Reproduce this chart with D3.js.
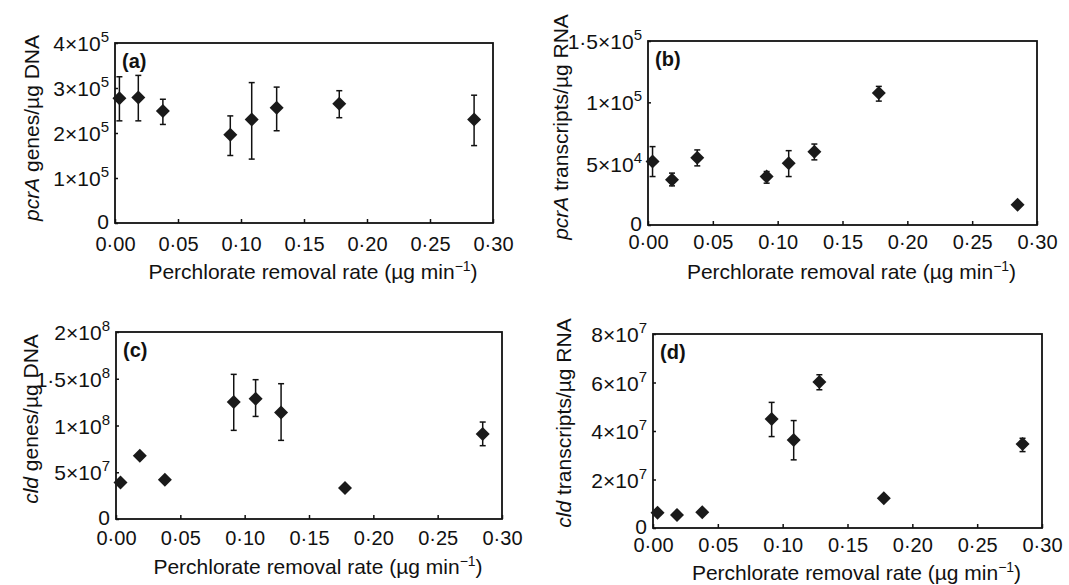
<!DOCTYPE html>
<html>
<head>
<meta charset="utf-8">
<script src="https://cdn.jsdelivr.net/npm/d3@7"></script>
<style>
  body { margin: 0; background: #fff; }
  svg, svg text { font-family: "Liberation Sans", Arial, Helvetica, sans-serif; }
</style>
</head>
<body>
<svg width="1069" height="585"></svg>
<script>
// removal rate (ug/min), same for every panel
var rate = [0.0035, 0.0185, 0.038, 0.0915, 0.1085, 0.1283, 0.178, 0.285];

// (a) pcrA genes / ug DNA
var pcrDNA    = [2.77e5, 2.79e5, 2.49e5, 1.96e5, 2.30e5, 2.56e5, 2.65e5, 2.30e5];
var pcrDNAHi  = [3.25e5, 3.28e5, 2.75e5, 2.38e5, 3.12e5, 3.02e5, 2.94e5, 2.84e5];
var pcrDNALo  = [2.27e5, 2.27e5, 2.19e5, 1.50e5, 1.42e5, 2.05e5, 2.34e5, 1.72e5];

// (b) pcrA transcripts / ug RNA
var pcrRNA    = [5.17e4, 3.68e4, 5.49e4, 3.95e4, 5.04e4, 5.98e4, 1.077e5, 1.65e4];
var pcrRNAHi  = [6.39e4, 4.23e4, 6.12e4, 4.36e4, 6.06e4, 6.60e4, 1.13e5, 1.75e4];
var pcrRNALo  = [3.95e4, 3.19e4, 4.82e4, 3.41e4, 3.95e4, 5.31e4, 1.01e5, 1.55e4];

// (c) cld genes / ug DNA
var cldDNA    = [3.91e7, 6.77e7, 4.20e7, 1.251e8, 1.287e8, 1.14e8, 3.32e7, 9.09e7];
var cldDNAHi  = [4.1e7, 6.9e7, 4.3e7, 1.547e8, 1.49e8, 1.447e8, 3.4e7, 1.037e8];
var cldDNALo  = [3.7e7, 6.6e7, 4.1e7, 9.48e7, 1.097e8, 8.41e7, 3.2e7, 7.84e7];

// (d) cld transcripts / ug RNA
var cldRNA    = [6.3e6, 5.4e6, 6.5e6, 4.49e7, 3.63e7, 6.02e7, 1.23e7, 3.46e7];
var cldRNAHi  = [6.8e6, 5.8e6, 7.0e6, 5.18e7, 4.43e7, 6.32e7, 1.28e7, 3.70e7];
var cldRNALo  = [5.8e6, 5.0e6, 6.0e6, 3.77e7, 2.81e7, 5.70e7, 1.18e7, 3.15e7];

var xTicks = [0, 0.05, 0.10, 0.15, 0.20, 0.25, 0.30];

// y ticks: value, mantissa text, exponent
var yTicksA = [[0,"0",""],[1e5,"1×10","5"],[2e5,"2×10","5"],[3e5,"3×10","5"],[4e5,"4×10","5"]];
var yTicksB = [[0,"0",""],[5e4,"5×10","4"],[1e5,"1×10","5"],[1.5e5,"1·5×10","5"]];
var yTicksC = [[0,"0",""],[5e7,"5×10","7"],[1e8,"1×10","8"],[1.5e8,"1·5×10","8"],[2e8,"2×10","8"]];
var yTicksD = [[0,"0",""],[2e7,"2×10","7"],[4e7,"4×10","7"],[6e7,"6×10","7"],[8e7,"8×10","7"]];

var panels = [
  {tag:"(a)", gene:"pcrA", unit:" genes/µg DNA", y:pcrDNA, hi:pcrDNAHi, lo:pcrDNALo, ticks:yTicksA, ymax:4e5,
   box:[115, 43, 493, 223], titleX:39, titleY:128, xLabY:251, xTitleY:279},
  {tag:"(b)", gene:"pcrA", unit:" transcripts/µg RNA", y:pcrRNA, hi:pcrRNAHi, lo:pcrRNALo, ticks:yTicksB, ymax:1.5e5,
   box:[648, 41, 1037, 225], titleX:568, titleY:127, xLabY:249, xTitleY:279},
  {tag:"(c)", gene:"cld", unit:" genes/µg DNA", y:cldDNA, hi:cldDNAHi, lo:cldDNALo, ticks:yTicksC, ymax:2e8,
   box:[116, 332, 502, 519], titleX:38, titleY:419, xLabY:545, xTitleY:574},
  {tag:"(d)", gene:"cld", unit:" transcripts/µg RNA", y:cldRNA, hi:cldRNAHi, lo:cldRNALo, ticks:yTicksD, ymax:8e7,
   box:[653, 334, 1042, 528], titleX:571, titleY:423, xLabY:552, xTitleY:580}
];

var svg = d3.select("svg");
var diamond = d3.symbol().type(d3.symbolDiamond2).size(125);
var ink = "#111";

panels.forEach(function(p){
  var x0 = p.box[0], y0 = p.box[1], x1 = p.box[2], y1 = p.box[3];
  var x = d3.scaleLinear().domain([0, 0.30]).range([x0, x1]);
  var y = d3.scaleLinear().domain([0, p.ymax]).range([y1, y0]);
  var g = svg.append("g");

  // frame
  g.append("rect")
    .attr("x", x0).attr("y", y0)
    .attr("width", x1 - x0).attr("height", y1 - y0)
    .attr("fill", "none").attr("stroke", ink).attr("stroke-width", 1.8);

  // x axis, ticks pointing in
  var xa = g.append("g").attr("transform", "translate(0," + y1 + ")")
    .call(d3.axisBottom(x).tickValues(xTicks).tickSizeInner(-4).tickSizeOuter(0)
      .tickFormat(function(d){ return d3.format(".2f")(d).replace(".", "·"); }));
  xa.attr("font-family", null).attr("font-size", null);
  xa.select(".domain").remove();
  xa.selectAll("line").attr("stroke", ink).attr("stroke-width", 1.5);
  xa.selectAll("text").attr("y", p.xLabY - y1).attr("dy", null)
    .attr("font-size", 20).attr("fill", ink);

  // y axis, ticks pointing in
  var ya = g.append("g").attr("transform", "translate(" + x0 + ",0)")
    .call(d3.axisLeft(y).tickValues(p.ticks.map(function(t){ return t[0]; }))
      .tickSizeInner(-3).tickSizeOuter(0).tickFormat(""));
  ya.select(".domain").remove();
  ya.selectAll("line").attr("stroke", ink).attr("stroke-width", 1.5);

  var yl = g.selectAll(".ylab").data(p.ticks).enter().append("text")
    .attr("x", x0 - 6).attr("y", function(d){ return y(d[0]) + (d[0] === 0 ? 6 : 8); })
    .attr("text-anchor", "end").attr("font-size", 21).attr("fill", ink);
  yl.append("tspan").text(function(d){ return d[1]; });
  yl.append("tspan").attr("dy", -9).attr("font-size", 15).text(function(d){ return d[2]; });

  // panel tag
  g.append("text").attr("x", x0 + 7).attr("y", y0 + 25)
    .attr("font-size", 20).attr("font-weight", "bold").attr("fill", ink).text(p.tag);

  // axis titles
  var yt = g.append("text")
    .attr("transform", "translate(" + p.titleX + "," + p.titleY + ") rotate(-90)")
    .attr("text-anchor", "middle").attr("font-size", 21).attr("fill", ink);
  yt.append("tspan").attr("font-style", "italic").text(p.gene);
  yt.append("tspan").text(p.unit);

  var xt = g.append("text").attr("x", (x0 + x1) / 2 + 9).attr("y", p.xTitleY)
    .attr("text-anchor", "middle").attr("font-size", 21).attr("fill", ink);
  xt.append("tspan").text("Perchlorate removal rate (µg min");
  xt.append("tspan").attr("dy", -8).attr("font-size", 14).text("−1");
  xt.append("tspan").attr("dy", 8).text(")");

  // error bars
  var eb = g.selectAll(".err").data(rate).enter().append("g");
  eb.append("line")
    .attr("x1", function(d){ return x(d); }).attr("x2", function(d){ return x(d); })
    .attr("y1", function(d, i){ return y(p.hi[i]); }).attr("y2", function(d, i){ return y(p.lo[i]); })
    .attr("stroke", ink).attr("stroke-width", 1.5);
  [p.hi, p.lo].forEach(function(arr){
    eb.append("line")
      .attr("x1", function(d){ return x(d) - 3; }).attr("x2", function(d){ return x(d) + 3; })
      .attr("y1", function(d, i){ return y(arr[i]); }).attr("y2", function(d, i){ return y(arr[i]); })
      .attr("stroke", ink).attr("stroke-width", 1.5);
  });

  // diamonds
  g.selectAll(".pt").data(rate).enter().append("path")
    .attr("d", diamond)
    .attr("transform", function(d, i){ return "translate(" + x(d) + "," + y(p.y[i]) + ")"; })
    .attr("fill", "#1a1a1a");
});
</script>
</body>
</html>
